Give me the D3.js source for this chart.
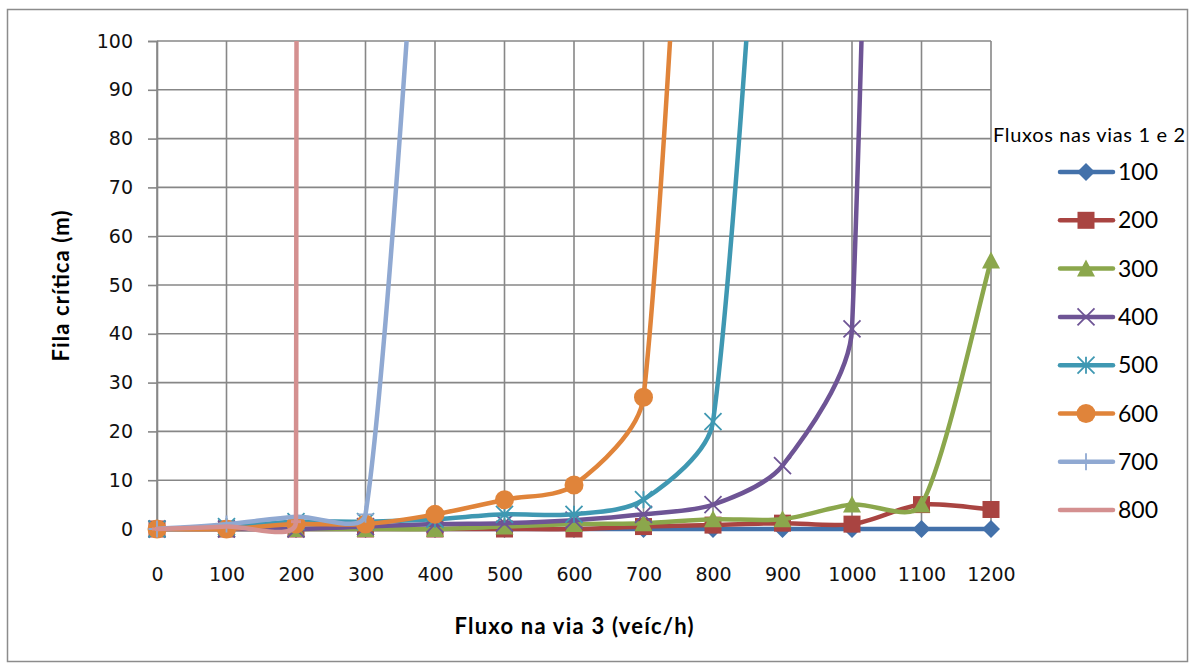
<!DOCTYPE html>
<html>
<head>
<meta charset="utf-8">
<script src="https://cdn.jsdelivr.net/npm/d3@7"></script>
<style>
  body { margin: 0; background: #fff; }
  svg { display: block; }
</style>
</head>
<body>
<svg width="1195" height="666"></svg>
<script>
// fluxo na via 3 (veic/h)
var fluxos = [0, 100, 200, 300, 400, 500, 600, 700, 800, 900, 1000, 1100, 1200];
var yTicks = [0, 10, 20, 30, 40, 50, 60, 70, 80, 90, 100];

// fila critica (m) per fluxo nas vias 1 e 2 -- lines leaving the top go to the last value
var fila100 = [0, 0, 0, 0, 0, 0, 0, 0, 0, 0, 0, 0, 0];
var fila200 = [0, 0, 0, 0, 0, 0, 0, 0.5, 0.8, 1.2, 1, 5, 4];
var fila300 = [0, 0, 0, 0, 0, 0.5, 1, 1.2, 2, 2, 5, 5, 55];
var fila400 = [0, 0, 0, 0.5, 1, 1.2, 1.8, 3, 5, 13, 41, 700];
var fila500 = [0, 0.5, 1.5, 1.5, 2, 3, 3, 6, 22, 210];
var fila600 = [0, 0, 1, 1, 3, 6, 9, 27, 260];
var fila700 = [0, 1, 2.5, 3, 185];
var fila800 = [0, 0.5, 1.5, 15000];

var seriesNames = ["100", "200", "300", "400", "500", "600", "700", "800"];
var seriesValues = [fila100, fila200, fila300, fila400, fila500, fila600, fila700, fila800];
var colors = ["#4371AA", "#A94441", "#8BA74C", "#6E5495", "#3F98B2", "#E0843A", "#90A9D2", "#D49090"];
var markers = ["diamond", "square", "triangle", "x", "star", "circle", "plus", "dash"];

var svg = d3.select("svg");
var plotLeft = 157, plotRight = 991, plotTop = 41, plotBottom = 529;

var x = d3.scaleLinear().domain([0, 1200]).range([plotLeft, plotRight]);
var y = d3.scaleLinear().domain([0, 100]).range([plotBottom, plotTop]);

// outer frame
svg.append("rect")
  .attr("x", 7.5).attr("y", 9.5)
  .attr("width", 1180).attr("height", 652)
  .attr("fill", "none").attr("stroke", "#8c8c8c").attr("stroke-width", 1.5);

// grid
var grid = svg.append("g").attr("stroke", "#878787").attr("stroke-width", 1.6);
grid.selectAll(".h").data(yTicks).enter().append("line")
  .attr("x1", plotLeft).attr("x2", plotRight)
  .attr("y1", function(d) { return y(d); })
  .attr("y2", function(d) { return y(d); });
grid.selectAll(".v").data(fluxos).enter().append("line")
  .attr("y1", plotTop).attr("y2", plotBottom)
  .attr("x1", function(d) { return x(d); })
  .attr("x2", function(d) { return x(d); });

// axes
var yAxis = svg.append("g")
  .attr("transform", "translate(" + plotLeft + ",0)")
  .call(d3.axisLeft(y).tickValues(yTicks).tickSize(9).tickPadding(15).tickFormat(d3.format("d")));
var xAxis = svg.append("g")
  .attr("transform", "translate(0," + plotBottom + ")")
  .call(d3.axisBottom(x).tickValues(fluxos).tickSize(0).tickPadding(39).tickFormat(d3.format("d")));
[yAxis, xAxis].forEach(function(a) {
  a.select(".domain").attr("stroke", "#878787").attr("stroke-width", 1.6);
  a.selectAll(".tick line").attr("stroke", "#878787").attr("stroke-width", 1.6);
  a.selectAll("text")
    .attr("font-family", "'DejaVu Sans', Verdana, sans-serif")
    .attr("font-weight", "normal")
    .attr("font-size", "19px")
    .attr("fill", "#111");
});

svg.append("text")
  .attr("transform", "translate(69," + ((plotTop + plotBottom) / 2 + 1) + ") rotate(-90)")
  .attr("text-anchor", "middle")
  .attr("font-family", "Lato, 'Open Sans', sans-serif")
  .attr("font-weight", "bold")
  .attr("font-size", "22px")
  .attr("textLength", 151)
  .attr("lengthAdjust", "spacing")
  .text("Fila crítica (m)");

svg.append("text")
  .attr("x", 574)
  .attr("y", 634)
  .attr("text-anchor", "middle")
  .attr("font-family", "Lato, 'Open Sans', sans-serif")
  .attr("font-weight", "bold")
  .attr("font-size", "22px")
  .attr("textLength", 239)
  .attr("lengthAdjust", "spacing")
  .text("Fluxo na via 3 (veíc/h)");

// Excel style smoothed line, control arms capped relative to the segment
function smoothPath(pts) {
  var k = 0.3;
  var p = d3.path();
  p.moveTo(pts[0][0], pts[0][1]);
  function dist(a, b) { return Math.hypot(a[0] - b[0], a[1] - b[1]); }
  for (var i = 0; i < pts.length - 1; i++) {
    var p0 = pts[i - 1] || pts[i], p1 = pts[i], p2 = pts[i + 1], p3 = pts[i + 2] || pts[i + 1];
    var d12 = dist(p1, p2), d02 = dist(p0, p2), d13 = dist(p1, p3);
    var f1 = (d02 / 6 < k * d12) ? 1 / 6 : k * d12 / d02;
    var f2 = (d13 / 6 < k * d12) ? 1 / 6 : k * d12 / d13;
    p.bezierCurveTo(
      p1[0] + f1 * (p2[0] - p0[0]), p1[1] + f1 * (p2[1] - p0[1]),
      p2[0] - f2 * (p3[0] - p1[0]), p2[1] - f2 * (p3[1] - p1[1]),
      p2[0], p2[1]);
  }
  return p.toString();
}

svg.append("clipPath").attr("id", "plotclip")
  .append("rect").attr("x", 0).attr("y", plotTop).attr("width", 1195).attr("height", 666 - plotTop);

function drawMarker(g, type, color, cx, cy) {
  var s = 8.5;
  if (type == "diamond") {
    g.append("path").attr("d", "M" + cx + "," + (cy - 9) + "L" + (cx + 9) + "," + cy + "L" + cx + "," + (cy + 9) + "L" + (cx - 9) + "," + cy + "Z")
      .attr("fill", color);
  } else if (type == "square") {
    g.append("rect").attr("x", cx - s).attr("y", cy - s).attr("width", 2 * s).attr("height", 2 * s)
      .attr("fill", color);
  } else if (type == "triangle") {
    g.append("path").attr("d", "M" + cx + "," + (cy - 9) + "L" + (cx + 9) + "," + (cy + 8) + "L" + (cx - 9) + "," + (cy + 8) + "Z")
      .attr("fill", color);
  } else if (type == "circle") {
    g.append("circle").attr("cx", cx).attr("cy", cy).attr("r", 9.5).attr("fill", color);
  } else if (type == "x") {
    g.append("path").attr("d", "M" + (cx - s) + "," + (cy - s) + "L" + (cx + s) + "," + (cy + s) + "M" + (cx + s) + "," + (cy - s) + "L" + (cx - s) + "," + (cy + s))
      .attr("stroke", color).attr("stroke-width", 1.8).attr("fill", "none");
  } else if (type == "star") {
    g.append("path").attr("d", "M" + (cx - s) + "," + (cy - s) + "L" + (cx + s) + "," + (cy + s) + "M" + (cx + s) + "," + (cy - s) + "L" + (cx - s) + "," + (cy + s) + "M" + cx + "," + (cy - s) + "L" + cx + "," + (cy + s))
      .attr("stroke", color).attr("stroke-width", 1.8).attr("fill", "none");
  } else if (type == "plus") {
    g.append("path").attr("d", "M" + (cx - s) + "," + cy + "L" + (cx + s) + "," + cy + "M" + cx + "," + (cy - s) + "L" + cx + "," + (cy + s))
      .attr("stroke", color).attr("stroke-width", 1.8).attr("fill", "none");
  } else if (type == "dash") {
    g.append("path").attr("d", "M" + (cx - 5) + "," + cy + "L" + (cx + 5) + "," + cy)
      .attr("stroke", color).attr("stroke-width", 3).attr("fill", "none");
  }
}

seriesValues.forEach(function(vals, si) {
  var pts = vals.map(function(v, i) { return [x(fluxos[i]), y(v)]; });
  var g = svg.append("g");
  g.append("path")
    .attr("d", smoothPath(pts))
    .attr("clip-path", "url(#plotclip)")
    .attr("fill", "none")
    .attr("stroke", colors[si])
    .attr("stroke-width", 4.5)
    .attr("stroke-linejoin", "round")
    .attr("stroke-linecap", "round");
  vals.forEach(function(v, i) {
    if (v <= 100) drawMarker(g, markers[si], colors[si], x(fluxos[i]), y(v));
  });
});

// legend
var legend = svg.append("g");
legend.append("text")
  .attr("x", 993).attr("y", 142)
  .attr("font-family", "Lato, 'Open Sans', sans-serif")
  .attr("font-size", "20px")
  .attr("textLength", 192)
  .attr("lengthAdjust", "spacing")
  .text("Fluxos nas vias 1 e 2");
seriesNames.forEach(function(name, i) {
  var ly = 172 + i * 48.3;
  var item = legend.append("g");
  item.append("line")
    .attr("x1", 1060).attr("x2", 1113).attr("y1", ly).attr("y2", ly)
    .attr("stroke", colors[i]).attr("stroke-width", 4.5).attr("stroke-linecap", "round");
  drawMarker(item, markers[i], colors[i], 1086, ly);
  item.append("text")
    .attr("x", 1118).attr("y", ly + 8)
    .attr("font-family", "Lato, 'Open Sans', sans-serif")
    .attr("font-size", "23px")
    .text(name);
});
</script>
</body>
</html>
